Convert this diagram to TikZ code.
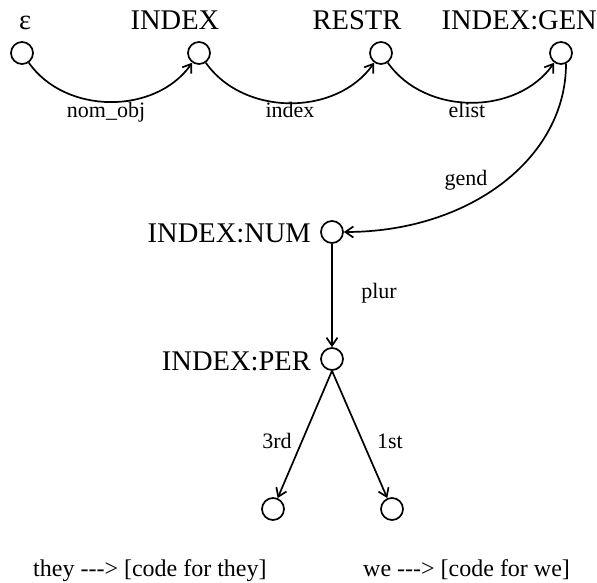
\documentclass[tikz,border=0pt]{standalone}
\usepackage{fontspec}
\setmainfont{Liberation Serif}
\usetikzlibrary{arrows.meta}
\begin{document}
\begin{tikzpicture}[x=1pt,y=1pt,
  state/.style={circle,draw,line width=1.7pt,minimum size=22pt,inner sep=0pt},
  edge/.style={line width=1.7pt,-{Straight Barb[length=8pt,width=11pt,line width=1.7pt]}},
  big/.style={inner sep=0pt,anchor=base,font=\fontsize{28.5}{33}\selectfont},
  lab/.style={inner sep=0pt,anchor=base,font=\fontsize{22}{26}\selectfont},
  outtext/.style={inner sep=0pt,anchor=base west,font=\fontsize{24}{28}\selectfont}]
\useasboundingbox (0,0) rectangle (597,582);

% states
\node[state] (e)    at (22,529) {};
\node[state] (idx)  at (199,529) {};
\node[state] (res)  at (381,529) {};
\node[state] (gen)  at (561,529) {};
\node[state] (num)  at (332,350) {};
\node[state] (per)  at (332,223) {};
\node[state] (they) at (273,73) {};
\node[state] (we)   at (392,73) {};

% state names
\node[big] (te)   at (25,552) {ε};
\node[big] (tidx) at (175,552) {INDEX};
\node[big] (tres) at (357,552) {RESTR};
\node[big,anchor=base east] (tgen) at (597,552) {INDEX:GEN};
\node[big,anchor=base east] (tnum) at (311,339) {INDEX:NUM};
\node[big,anchor=base east] (tper) at (311,212) {INDEX:PER};

% transitions
\draw[edge] (e.-55) to[out=-55,in=-125] (idx.-125);
\draw[edge] (idx.-55) to[out=-55,in=-125] (res.-125);
\draw[edge] (res.-55) to[out=-55,in=-125] (gen.-125);
\draw[edge] (gen.-65) .. controls +(0,-95) and +(125,0) .. (num.east);
\draw[edge] (num.south) -- (per.north);
\draw[edge] (per.south) -- (they);
\draw[edge] (per.south) -- (we);

% transition labels
\node[lab] (lnom)  at (106,464) {nom\_obj};
\node[lab] (lidx)  at (290,464) {index};
\node[lab] (lel)   at (467,464) {elist};
\node[lab] (lgend) at (466,396) {gend};
\node[lab] (lplur) at (379,284) {plur};
\node[lab] (l3rd)  at (277,134) {3rd};
\node[lab] (l1st)  at (390,134) {1st};

% outputs
\node[outtext] (othey) at (33,6) {they -{}-{}-> [code for they]};
\node[outtext] (owe)   at (363,6) {we -{}-{}-> [code for we]};
\end{tikzpicture}
\end{document}
